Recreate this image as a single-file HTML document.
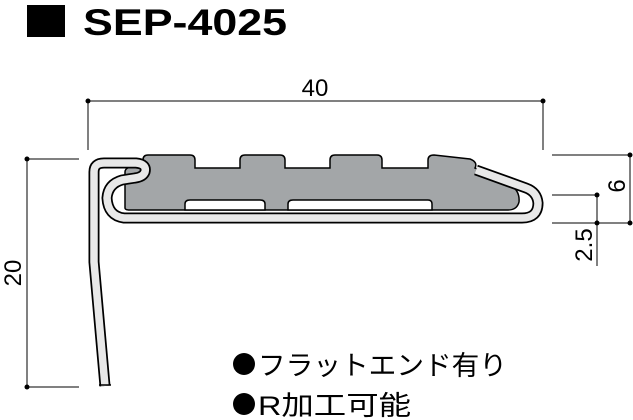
<!DOCTYPE html>
<html><head><meta charset="utf-8"><style>
html,body{margin:0;padding:0;background:#fff;width:633px;height:420px;overflow:hidden}
svg{display:block}
</style></head><body>
<svg width="633" height="420" viewBox="0 0 633 420" xmlns="http://www.w3.org/2000/svg">
<rect x="27" y="5" width="38" height="32" fill="#000"/>
<text x="83" y="35" font-family="Liberation Sans, sans-serif" font-weight="bold" font-size="37" textLength="204" lengthAdjust="spacingAndGlyphs">SEP-4025</text>

<g stroke="#000" stroke-width="1" fill="none">
<line x1="88" y1="101" x2="543" y2="101"/>
<line x1="88" y1="101" x2="88" y2="150"/>
<line x1="543" y1="101" x2="543" y2="150"/>
<line x1="27" y1="159" x2="27" y2="387"/>
<line x1="27" y1="159" x2="79" y2="159"/>
<line x1="27" y1="387" x2="79" y2="387"/>
<line x1="552" y1="155" x2="630" y2="155"/>
<line x1="552" y1="195" x2="597" y2="195"/>
<line x1="552" y1="223" x2="630" y2="223"/>
<line x1="630" y1="155" x2="630" y2="223"/>
<line x1="597" y1="195" x2="597" y2="266"/>
</g>
<g fill="#000">
<circle cx="88" cy="101" r="2.5"/><circle cx="543" cy="101" r="2.5"/>
<circle cx="27" cy="159" r="2.5"/><circle cx="27" cy="387" r="2.5"/>
<circle cx="630" cy="155" r="2.5"/><circle cx="630" cy="223" r="2.5"/>
<circle cx="597" cy="195" r="2.5"/><circle cx="597" cy="223" r="2.5"/>
</g>
<g font-family="Liberation Sans, sans-serif" font-size="24" fill="#000">
<text x="315" y="96" text-anchor="middle">40</text>
<text transform="translate(21,273) rotate(-90)" text-anchor="middle">20</text>
<text transform="translate(625,186) rotate(-90)" text-anchor="middle">6</text>
<text transform="translate(592,245) rotate(-90)" text-anchor="middle">2.5</text>
</g>

<path d="M125,208 L125,172 Q125,166 140,166 L143,166 L143,160 Q143,155 148,155 L190,155 Q195,155 195,160 L195,168 L240,168 L240,160 Q240,155 245,155 L280,155 Q285,155 285,160 L285,168 L330,168 L330,160 Q330,155 335,155 L377,155 Q382,155 382,160 L382,168 L428,168 L428,160 Q428,155 434,155 L470,159 Q478,162 475,168 L512,186 Q520,192 519,202 Q517,210 508,210 L130,210 Q125,210 125,208 Z" fill="#a3a6a8" stroke="#000" stroke-width="1.5"/>
<path d="M185,210 L185,204 Q185,200 190,200 L260,200 Q265,200 265,204 L265,210 Z" fill="#fff" stroke="#000" stroke-width="1.5"/>
<path d="M288,210 L288,204 Q288,200 293,200 L428,200 Q432,200 432,204 L432,210 Z" fill="#fff" stroke="#000" stroke-width="1.5"/>

<g fill="none" stroke-linejoin="round">
<path d="M105,386 L94,262 L94,172 Q94,163 104,163 L136,163 Q147,164 145,172 Q143,177 135,178 L122,180 Q108,184 107,198 Q108,216 124,218 L522,218 Q538,218 538,203 Q537,192 526,188 L476,170" stroke="#000" stroke-width="11"/>
<path d="M105,386 L94,262 L94,172 Q94,163 104,163 L136,163 Q147,164 145,172 Q143,177 135,178 L122,180 Q108,184 107,198 Q108,216 124,218 L522,218 Q538,218 538,203 Q537,192 526,188 L476,170" stroke="#e8e8e8" stroke-width="7.5"/>
</g>
<line x1="99" y1="385" x2="111" y2="385" stroke="#000" stroke-width="1.5"/>

<circle cx="244" cy="364" r="11" fill="#000"/>
<circle cx="244" cy="404" r="11" fill="#000"/>
<g font-family="Liberation Sans, 'Noto Sans CJK JP', sans-serif" font-size="27" fill="#000">
<text x="258" y="375" textLength="249" lengthAdjust="spacingAndGlyphs">フラットエンド有り</text>
<text x="258" y="415" textLength="153" lengthAdjust="spacingAndGlyphs">R加工可能</text>
</g>
</svg>
</body></html>
